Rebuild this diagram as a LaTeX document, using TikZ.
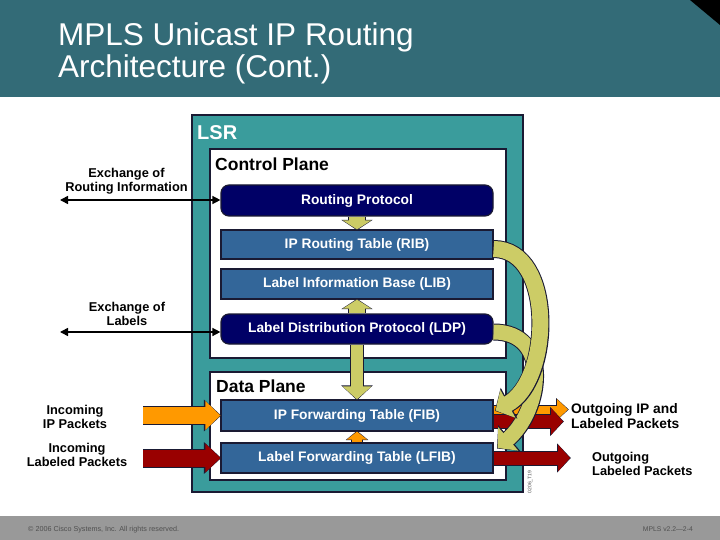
\documentclass[tikz,border=0pt]{standalone}
\usepackage{fontspec}
\setmainfont{Liberation Sans}
\usetikzlibrary{arrows.meta}

\definecolor{titlebar}{HTML}{336B77}
\definecolor{lsrteal}{HTML}{3A9C9C}
\definecolor{navybox}{HTML}{000066}
\definecolor{tablebox}{HTML}{336699}
\definecolor{boxline}{HTML}{1A1A33}
\definecolor{olivearrow}{HTML}{CCCC66}
\definecolor{orangearrow}{HTML}{FF9900}
\definecolor{redarrow}{HTML}{990000}
\definecolor{footergray}{HTML}{999999}
\definecolor{footertext}{HTML}{505050}

\begin{document}
\begin{tikzpicture}[x=1pt, y=-1pt,
    every node/.style={inner sep=0pt},
    tbl/.style={draw=boxline, line width=1.2pt, fill=tablebox, text=white, font=\bfseries\fontsize{13.8}{15}\selectfont, minimum width=272pt, minimum height=30pt},
    proto/.style={tbl, fill=navybox, rounded corners=8pt},
    plane/.style={draw=boxline, line width=1.5pt, fill=white, minimum width=296pt},
    lbl/.style={font=\bfseries\fontsize{12.8}{14}\selectfont, align=center},
    exch/.style={line width=1.5pt, {Triangle[length=8pt,width=8pt]}-{Triangle[length=8pt,width=8pt]}},
    blockarrow/.style n args={4}{draw=#1, line width=#2, -{Triangle[length=#4, width=#3]},
        preaction={draw=boxline, line width=#2+2pt, -{Triangle[length=#4, width=#3, scale length=1.15, scale width=1.1]}, shorten >=-0.8pt}}]
    \useasboundingbox (0,0) rectangle (720,540);

    % Title and footer
    \fill[titlebar] (0,0) rectangle (720,97);
    \fill[black] (690,0) -- (720,0) -- (720,25) -- cycle;
    \node[anchor=north west, align=left, text=white, font=\fontsize{31.5}{32.5}\selectfont] (title) at (58,22) {MPLS Unicast IP Routing\\Architecture (Cont.)};
    \fill[footergray] (0,516) rectangle (720,540);
    \node[anchor=west, text=footertext, font=\fontsize{7.2}{8}\selectfont] (copyright) at (28,529.5) {© 2006 Cisco Systems, Inc. All rights reserved.};
    \node[anchor=east, text=footertext, font=\fontsize{6.8}{7}\selectfont] (course) at (693,529.5) {MPLS v2.2—2-4};

    % LSR and planes
    \node[draw=boxline, line width=2pt, fill=lsrteal, minimum width=331pt, minimum height=377pt] (lsr) at (357.5,303.5) {};
    \node[plane, minimum height=209pt] (ctrl) at (358,253.5) {};
    \node[plane, minimum height=108pt] (data) at (358,426) {};
    \node[anchor=west, text=white, font=\bfseries\fontsize{20}{22}\selectfont] (lsrname) at (197,133) {LSR};
    \node[anchor=west, font=\bfseries\fontsize{17.5}{19}\selectfont] (ctrlname) at (215,164) {Control Plane};
    \node[anchor=west, font=\bfseries\fontsize{17.5}{19}\selectfont] (dataname) at (216,386) {Data Plane};
    \node[rotate=90, text=black!70, font=\fontsize{5}{5}\selectfont] (figid) at (530,482) {0206\_T19};

    % Tables
    \node[proto, minimum height=31pt] (rp) at (357,200.5) {Routing Protocol};
    \node[tbl, minimum height=29pt] (rib) at (357,244.5) {IP Routing Table (RIB)};
    \node[tbl] (lib) at (357,284) {Label Information Base (LIB)};
    \node[proto] (ldp) at (357,329) {Label Distribution Protocol (LDP)};
    \node[tbl, minimum height=31pt] (fib) at (357,415.5) {IP Forwarding Table (FIB)};
    \node[tbl] (lfib) at (357,458) {Label Forwarding Table (LFIB)};

    % Exchange with neighbours
    \node[lbl] (exroute) at (126.5,181.5) {Exchange of\\Routing Information};
    \node[lbl] (exlabel) at (127,314) {Exchange of\\Labels};
    \coordinate (routeout) at (60,200);
    \coordinate (labelout) at (60,332);
    \draw[exch] (routeout) -- (rp.west |- routeout);
    \draw[exch] (labelout) -- (ldp.west |- labelout);

    % Packets in and out
    \node[lbl] (inip) at (75,416.5) {Incoming\\IP Packets};
    \node[lbl] (inlab) at (77,455) {Incoming\\Labeled Packets};
    \node[anchor=west, align=left, font=\bfseries\fontsize{13.8}{15}\selectfont] (outiplab) at (571,416.5) {Outgoing IP and\\Labeled Packets};
    \node[anchor=west, align=left, font=\bfseries\fontsize{12.8}{14}\selectfont] (outlab) at (592,464) {Outgoing\\Labeled Packets};
    \coordinate (ipsrc) at (143,415.5);
    \coordinate (labsrc) at (143,458);
    \coordinate (ipdst) at (568,409.5);
    \coordinate (labdst) at (563,421.5);
    \coordinate (lfibdst) at (570,458);

    \draw[blockarrow={orangearrow}{17pt}{28pt}{15pt}] (ipsrc) -- (fib.west);
    \draw[blockarrow={redarrow}{17pt}{28pt}{15pt}] (labsrc) -- (lfib.west);
    \draw[blockarrow={orangearrow}{8pt}{20pt}{11pt}] ([yshift=6pt]fib.east) -- (ipdst);
    \draw[blockarrow={redarrow}{13pt}{26pt}{12pt}] ([yshift=-6pt]fib.east) -- (labdst);
    \draw[blockarrow={redarrow}{13pt}{26pt}{12pt}] (lfib.east) -- (lfibdst);

    % Flow inside the LSR
    \draw[blockarrow={olivearrow}{16pt}{28pt}{9pt}] (rp.south) -- (rib.north);
    \draw[blockarrow={olivearrow}{16pt}{28pt}{9pt}] (ldp.north) -- (lib.south);
    \draw[blockarrow={olivearrow}{12pt}{28pt}{13pt}] (ldp.south) -- (fib.north);
    \draw[blockarrow={orangearrow}{10pt}{20pt}{8pt}] (lfib.north) -- (fib.south);
    \draw[blockarrow={olivearrow}{15pt}{30pt}{14pt}] ([yshift=-3pt]ldp.east) .. controls (552,332) and (542,410) .. ([yshift=10pt,xshift=4pt]lfib.east);
    \draw[blockarrow={olivearrow}{16pt}{31pt}{14pt}] ([yshift=-4.5pt]rib.east) .. controls (555,249) and (552,380) .. ([yshift=5pt,xshift=2pt]fib.east);
\end{tikzpicture}
\end{document}
